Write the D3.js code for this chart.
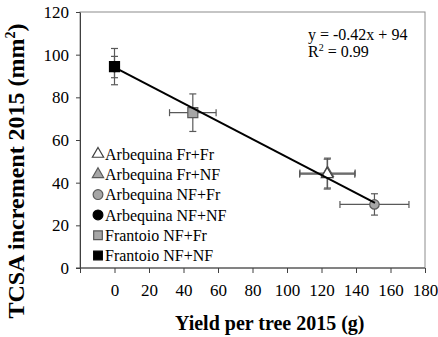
<!DOCTYPE html>
<html>
<head>
<meta charset="utf-8">
<script src="https://cdn.jsdelivr.net/npm/d3@7"></script>
<style>
  body { margin: 0; background: #fff; }
  svg { display: block; }
  svg text { font-family: "Liberation Serif", "Times New Roman", serif; }
</style>
</head>
<body>
<svg id="chart" width="438" height="337"></svg>
<script>
// series
const series = ["Arbequina Fr+Fr", "Arbequina Fr+NF", "Arbequina NF+Fr", "Arbequina NF+NF", "Frantoio NF+Fr", "Frantoio NF+NF"]
const yieldMean = [123.3, 123.5, 150.7, 0, 45.4, 0]
const yieldErr = [16, 16, 20, 0, 13.5, 0]
const tcsaMean = [44, 44.5, 29.8, 94.2, 72.8, 94.4]
const tcsaErr = [7, 7, 5, 5, 8.8, 8.5]
const xTicks = [-20, 0, 20, 40, 60, 80, 100, 120, 140, 160, 180]
const yTicks = [0, 20, 40, 60, 80, 100, 120]
const slope = -0.42, intercept = 94, fitRange = [0, 151]

const SHAPE = ["triangle", "triangle", "circle", "circle", "square", "square"]
const FILL = ["#ffffff", "#a6a6a6", "#a6a6a6", "#000000", "#a6a6a6", "#000000"]
const STROKE = ["#404040", "#595959", "#595959", "#000000", "#595959", "#000000"]
const ERR_COLOR = "#595959"

const svg = d3.select("#chart")
const mLeft = 80, mRight = 425, mTop = 12, mBottom = 268

const x = d3.scaleLinear().domain([-20, 180]).range([mLeft, mRight])
const y = d3.scaleLinear().domain([0, 120]).range([mBottom, mTop])

// frame (top/right lighter)
svg.append("rect")
  .attr("x", mLeft).attr("y", mTop)
  .attr("width", mRight - mLeft).attr("height", mBottom - mTop)
  .attr("fill", "none").attr("stroke", "#8c8c8c").attr("stroke-width", 1)

// axes
const xAxis = svg.append("g")
  .attr("transform", "translate(0," + mBottom + ")")
  .call(d3.axisBottom(x).tickValues(xTicks).tickSize(5).tickSizeOuter(0)
    .tickFormat(d => d < 0 ? "" : d))
xAxis.attr("font-family", null)
xAxis.select(".domain").attr("stroke", "#404040").attr("d", "M" + (mLeft - 4) + ",0H" + mRight)
xAxis.selectAll(".tick line").attr("stroke", "#404040")
xAxis.selectAll("text").attr("font-size", 17).attr("fill", "#000").attr("dy", "1.2em")

const yAxis = svg.append("g")
  .attr("transform", "translate(" + mLeft + ",0)")
  .call(d3.axisLeft(y).tickValues(yTicks).tickSize(4).tickSizeOuter(0))
yAxis.attr("font-family", null)
yAxis.select(".domain").attr("stroke", "#404040")
yAxis.selectAll(".tick line").attr("stroke", "#404040")
yAxis.selectAll("text").attr("font-size", 17).attr("fill", "#000").attr("x", -11)

// axis titles
svg.append("text")
  .attr("x", (x(0) + x(180)) / 2).attr("y", 330)
  .attr("text-anchor", "middle")
  .attr("font-size", 20).attr("font-weight", "bold")
  .text("Yield per tree 2015 (g)")

const yt = svg.append("text")
  .attr("transform", "translate(24,171) rotate(-90)")
  .attr("text-anchor", "middle")
  .attr("font-size", 24).attr("font-weight", "bold")
yt.append("tspan").text("TCSA increment 2015 (mm")
yt.append("tspan").attr("dy", -9).attr("font-size", 14).text("2")
yt.append("tspan").attr("dy", 9).text(")")

// equation
const eq = svg.append("g").attr("font-size", 16)
eq.append("text").attr("x", 308).attr("y", 40).text("y = -0.42x + 94")
const r2 = eq.append("text").attr("x", 308).attr("y", 57)
r2.append("tspan").text("R")
r2.append("tspan").attr("dy", -6).attr("font-size", 10).text("2")
r2.append("tspan").attr("dy", 6).text(" = 0.99")

const pts = series.map((s, i) => ({ name: s, i: i, x: yieldMean[i], xe: yieldErr[i], y: tcsaMean[i], ye: tcsaErr[i] }))

// error bars
const cap = 3.5
const eb = svg.append("g").attr("stroke", ERR_COLOR).attr("stroke-width", 1.2).attr("fill", "none")
pts.forEach(p => {
  const g = eb.append("g")
  g.append("line").attr("x1", x(p.x)).attr("x2", x(p.x)).attr("y1", y(p.y - p.ye)).attr("y2", y(p.y + p.ye))
  g.append("line").attr("x1", x(p.x) - cap).attr("x2", x(p.x) + cap).attr("y1", y(p.y - p.ye)).attr("y2", y(p.y - p.ye))
  g.append("line").attr("x1", x(p.x) - cap).attr("x2", x(p.x) + cap).attr("y1", y(p.y + p.ye)).attr("y2", y(p.y + p.ye))
  if (p.xe > 0) {
    g.append("line").attr("x1", x(p.x - p.xe)).attr("x2", x(p.x + p.xe)).attr("y1", y(p.y)).attr("y2", y(p.y))
    g.append("line").attr("x1", x(p.x - p.xe)).attr("x2", x(p.x - p.xe)).attr("y1", y(p.y) - cap).attr("y2", y(p.y) + cap)
    g.append("line").attr("x1", x(p.x + p.xe)).attr("x2", x(p.x + p.xe)).attr("y1", y(p.y) - cap).attr("y2", y(p.y) + cap)
  }
})

function symbolPath(shape, size) {
  const t = shape == "triangle" ? d3.symbolTriangle : shape == "circle" ? d3.symbolCircle : d3.symbolSquare
  return d3.symbol().type(t).size(size)()
}
const SIZE = { triangle: 60, circle: 70, square: 100 }

// markers (draw order so the visible one lands on top)
const order = [1, 0, 2, 3, 4, 5]
svg.append("g").selectAll("path")
  .data(order.map(i => pts[i]))
  .join("path")
  .attr("transform", d => "translate(" + x(d.x) + "," + y(d.y) + ")")
  .attr("d", d => symbolPath(SHAPE[d.i], SIZE[SHAPE[d.i]]))
  .attr("fill", d => FILL[d.i])
  .attr("stroke", d => STROKE[d.i])
  .attr("stroke-width", 1.2)

// regression line
svg.append("line")
  .attr("x1", x(fitRange[0])).attr("y1", y(slope * fitRange[0] + intercept))
  .attr("x2", x(fitRange[1])).attr("y2", y(slope * fitRange[1] + intercept))
  .attr("stroke", "#000").attr("stroke-width", 2)

// legend
const legend = svg.append("g").attr("transform", "translate(98,154)")
const row = legend.selectAll("g").data(pts).join("g")
  .attr("transform", (d, i) => "translate(0," + (i * 20.3) + ")")
row.append("path")
  .attr("d", d => symbolPath(SHAPE[d.i], SHAPE[d.i] == "triangle" ? 55 : 75))
  .attr("fill", d => FILL[d.i])
  .attr("stroke", d => STROKE[d.i])
  .attr("stroke-width", 1.2)
row.append("text")
  .attr("x", 7).attr("dy", "0.35em")
  .attr("font-size", 16)
  .text(d => d.name)
</script>
</body>
</html>
